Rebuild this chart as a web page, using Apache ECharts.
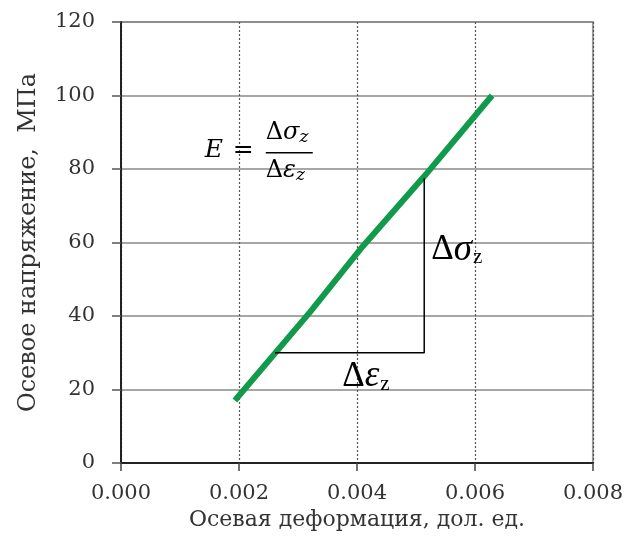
<!DOCTYPE html>
<html><head><meta charset="utf-8">
<script src="https://cdn.jsdelivr.net/npm/echarts@6/dist/echarts.min.js"></script>
<style>html,body{margin:0;padding:0;background:#fff}#c{width:626px;height:545px}</style>
</head><body><div id="c"></div>
<script>
// Data
const strainValues = [0.00193, 0.0032, 0.0041, 0.00514, 0.00629];
const stressValues = [17, 41, 59, 78, 100];
const triangleX = [0.00261, 0.00514, 0.00514];
const triangleY = [30, 30, 77.5];
const xTicks = ['0.000', '0.002', '0.004', '0.006', '0.008'];
const yTicks = [0, 20, 40, 60, 80, 100, 120];
const xName = 'Осевая деформация, дол. ед.';
const yName = 'Осевое напряжение,  МПа';

const serif = 'DejaVu Serif';
const chart = echarts.init(document.getElementById('c'), null, {renderer: 'canvas'});
const lineData = strainValues.map((x, i) => [x, stressValues[i]]);
const triData = triangleX.map((x, i) => [x, triangleY[i]]);

chart.setOption({
  animation: false,
  grid: {left: 121, right: 33, top: 22, bottom: 82, show: true, borderColor: '#9a9a9a', borderWidth: 2},
  xAxis: {
    type: 'value', min: 0, max: 0.008, interval: 0.002,
    name: xName, nameLocation: 'middle', nameGap: 46,
    nameTextStyle: {fontFamily: serif, fontSize: 22, color: '#333'},
    axisLine: {show: true, onZero: false, lineStyle: {color: '#222', width: 2}},
    axisTick: {show: true, length: 8, lineStyle: {color: '#444', width: 1.5}},
    axisLabel: {margin: 20, fontFamily: serif, fontSize: 21, color: '#333',
      formatter: (v) => xTicks[Math.round(v / 0.002)]},
    splitLine: {show: true, lineStyle: {color: '#555', type: [2, 2], width: 1.2}}
  },
  yAxis: {
    type: 'value', min: 0, max: 120, interval: 20,
    name: yName, nameLocation: 'middle', nameGap: 80,
    nameTextStyle: {fontFamily: serif, fontSize: 24, color: '#333'},
    axisLine: {show: true, lineStyle: {color: '#222', width: 2}},
    axisTick: {show: true, length: 9, lineStyle: {color: '#555', width: 1.5}},
    axisLabel: {margin: 26, fontFamily: serif, fontSize: 21, color: '#333'},
    splitLine: {show: true, lineStyle: {color: '#888', width: 1.5}}
  },
  series: [
    {type: 'line', data: lineData, showSymbol: false, smooth: false,
      lineStyle: {color: '#119a4c', width: 6}, z: 3},
    {type: 'line', data: triData, showSymbol: false,
      lineStyle: {color: '#000', width: 1.5}, z: 4}
  ]
});

// Annotations positioned in data coordinates
const sigPos = chart.convertToPixel({gridIndex: 0}, [0.00526, 58]);
const epsPos = chart.convertToPixel({gridIndex: 0}, [0.00375, 23.5]);
const fPos = chart.convertToPixel({gridIndex: 0}, [0.00142, 85]);
const deltaRich = (g) => ({
  text: '{d|Δ}{g|' + g + '}{s|z}', verticalAlign: 'middle',
  rich: {d: {fontFamily: 'Liberation Serif', fontSize: 35, color: '#000'},
         g: {fontFamily: 'Liberation Serif', fontStyle: 'italic', fontSize: 37, color: '#000'},
         s: {fontFamily: 'Liberation Serif', fontSize: 21, color: '#000', padding: [15, 0, 0, 1]}}
});
const fracRich = (g) => ({
  text: '{d|Δ}{g|' + g + '}{s|z}', verticalAlign: 'middle',
  rich: {d: {fontFamily: serif, fontSize: 24, color: '#000'},
         g: {fontFamily: serif, fontStyle: 'italic', fontSize: 24, color: '#000'},
         s: {fontFamily: serif, fontStyle: 'italic', fontSize: 17, color: '#000', padding: [9, 0, 0, 0]}}
});
chart.setOption({
  graphic: [
    {type: 'text', x: sigPos[0], y: sigPos[1], z: 10, style: deltaRich('σ')},
    {type: 'text', x: epsPos[0], y: epsPos[1], z: 10, style: deltaRich('ε')},
    {type: 'group', x: fPos[0], y: fPos[1], z: 10, children: [
      {type: 'text', x: 0, y: 0, style: {text: 'E', fontFamily: serif, fontStyle: 'italic', fontSize: 25, fill: '#000', verticalAlign: 'middle'}},
      {type: 'text', x: 28, y: 0, style: {text: '=', fontFamily: serif, fontSize: 25, fill: '#000', verticalAlign: 'middle'}},
      {type: 'text', x: 61, y: -18, style: fracRich('σ')},
      {type: 'line', shape: {x1: 61, y1: 2, x2: 108, y2: 2}, style: {stroke: '#000', lineWidth: 1.5}},
      {type: 'text', x: 61, y: 20, style: fracRich('ε')}
    ]}
  ]
});
</script>
</body></html>
